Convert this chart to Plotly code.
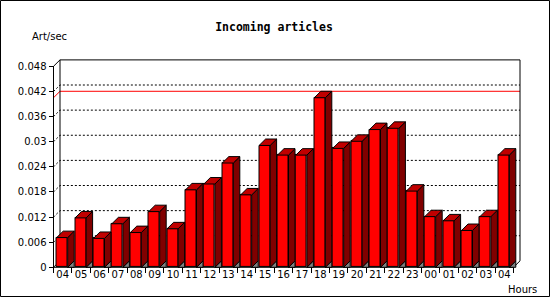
import plotly.graph_objects as go

# ---- data ----
hours = ["04", "05", "06", "07", "08", "09", "10", "11", "12", "13", "14", "15", "16",
         "17", "18", "19", "20", "21", "22", "23", "00", "01", "02", "03", "04"]
art_per_sec = [0.0071, 0.0118, 0.0069, 0.0104, 0.0083, 0.0133, 0.0092, 0.0185, 0.0199,
               0.0249, 0.0173, 0.0291, 0.0268, 0.0268, 0.0405, 0.0284, 0.0301, 0.0329,
               0.0332, 0.0182, 0.0121, 0.0111, 0.0088, 0.0121, 0.0268]
y_ticks = [0, 0.006, 0.012, 0.018, 0.024, 0.03, 0.036, 0.042, 0.048]
y_ticktext = ["0", "0.006", "0.012", "0.018", "0.024", "0.03", "0.036", "0.042", "0.048"]
title_text = "Incoming articles"
y_title = "Art/sec"
x_title = "Hours"

# ---- geometry (pixels) ----
W, H = 550, 300
X0_PX = 53.5
SLOT_PX = 18.4
Y0_PX = 270
YTOP_PX = 67
YMAX = 0.048
DEPTH = 6.5
PAD = 3
n = len(art_per_sec)
PPY = (Y0_PX - YTOP_PX) / YMAX

dxc = DEPTH / SLOT_PX
dyc = DEPTH / PPY
xr = [-0.5 - PAD / SLOT_PX, n - 0.5 + (DEPTH + PAD) / SLOT_PX]
yr = [-PAD / PPY, YMAX + (DEPTH + PAD) / PPY]
xdom = [(X0_PX - PAD) / W, (X0_PX + n * SLOT_PX + DEPTH + PAD) / W]
ydom = [(H - Y0_PX - PAD) / H, (H - YTOP_PX + DEPTH + PAD) / H]

BAR_OFF = -0.5 + 3.2 / SLOT_PX
BAR_W = 11 / SLOT_PX

idx = list(range(n))
fig = go.Figure()

fig.add_trace(go.Bar(x=idx, y=art_per_sec, width=BAR_W, offset=BAR_OFF,
                     marker=dict(color="#ff0000", line=dict(color="black", width=1)),
                     hoverinfo="skip", showlegend=False))

sx, sy, tx, ty, gx, gy = [], [], [], [], [], []
for i, v in zip(idx, art_per_sec):
    l = i + BAR_OFF
    r = l + BAR_W
    sx += [r, r, r + dxc, r + dxc, r, None]
    sy += [0, v, v + dyc, dyc, 0, None]
    tx += [l, r, r + dxc, l + dxc, l, None]
    ty += [v, v, v + dyc, v + dyc, v, None]
    gx += [r, r + dxc, r + dxc, r, None]
    gy += [0, dyc, 0, 0, None]

for px_, py_, col in [(gx, gy, "#808080"), (sx, sy, "#800000"), (tx, ty, "#c00000")]:
    fig.add_trace(go.Scatter(x=px_, y=py_, mode="lines", fill="toself", fillcolor=col,
                             line=dict(color="black", width=1), hoverinfo="skip",
                             showlegend=False))

shapes = []
xl, xrgt = -0.5, n - 0.5
for v in y_ticks[1:-1]:
    shapes.append(dict(type="path", xref="x", yref="y", layer="below",
                       path=f"M {xl},{v} L {xl+dxc},{v+dyc} L {xrgt+dxc},{v+dyc}",
                       line=dict(color="black", width=1, dash="2px,2px")))
vmax = max(art_per_sec)
shapes.append(dict(type="path", xref="x", yref="y", layer="below",
                   path=f"M {xl},{vmax} L {xl+dxc},{vmax+dyc} L {xrgt+dxc},{vmax+dyc}",
                   line=dict(color="red", width=1)))
shapes.append(dict(type="path", xref="x", yref="y", layer="below",
                   path=(f"M {xl},0 L {xl},{YMAX} L {xl+dxc},{YMAX+dyc} L {xrgt+dxc},{YMAX+dyc} "
                         f"L {xrgt+dxc},{dyc} L {xrgt},0 Z"),
                   line=dict(color="black", width=1)))
shapes.append(dict(type="path", xref="x", yref="y", layer="below",
                   path=f"M {xl+dxc},{YMAX+dyc} L {xl+dxc},{dyc} L {xl},0",
                   line=dict(color="black", width=1)))
shapes.append(dict(type="rect", xref="paper", yref="paper",
                   x0=0.5 / W, x1=(W - 0.5) / W, y0=0.5 / H, y1=(H - 0.5) / H,
                   line=dict(color="black", width=1)))

lab_font = dict(family="DejaVu Sans", size=10, color="black")

fig.update_layout(
    width=W, height=H, margin=dict(l=0, r=0, t=0, b=0),
    paper_bgcolor="white", plot_bgcolor="white",
    showlegend=False, bargap=0,
    title=dict(text=title_text, x=274 / W, xanchor="center", y=1 - 27 / H, yanchor="middle",
               font=dict(family="DejaVu Sans Mono", size=11.5, color="black", weight="bold")),
    xaxis=dict(range=xr, domain=xdom, anchor="free", position=(H - Y0_PX) / H,
               tickmode="array", tickvals=idx, ticktext=hours, ticks="",
               minor=dict(tickmode="array", tickvals=[i - 0.5 for i in range(n + 1)],
                          ticks="outside", ticklen=5, tickcolor="black", showgrid=False),
               showgrid=False, zeroline=False, showline=False, tickfont=lab_font),
    yaxis=dict(range=yr, domain=ydom, anchor="free", position=X0_PX / W,
               tickmode="array", tickvals=y_ticks, ticktext=y_ticktext,
               ticks="outside", ticklen=5, tickcolor="black",
               showgrid=False, zeroline=False, showline=False, tickfont=lab_font),
    shapes=shapes,
    annotations=[
        dict(text=y_title, xref="paper", yref="paper", x=30 / W, y=1 - 37 / H,
             xanchor="left", yanchor="middle", showarrow=False, font=lab_font),
        dict(text=x_title, xref="paper", yref="paper", x=506 / W, y=1 - 292 / H,
             xanchor="left", yanchor="middle", showarrow=False, font=lab_font),
    ],
)

fig.write_html("out.html")
